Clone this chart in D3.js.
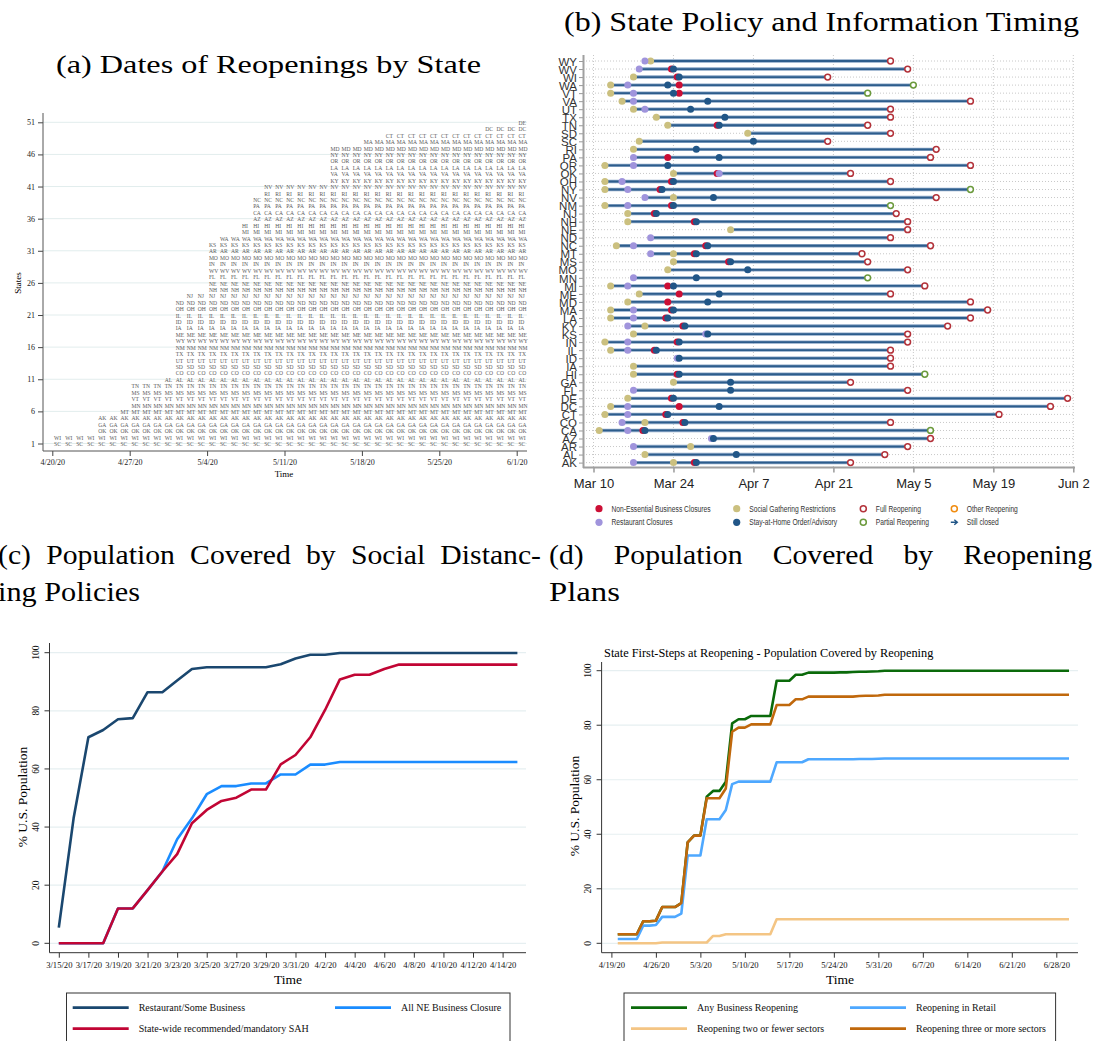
<!DOCTYPE html>
<html>
<head>
<meta charset="utf-8">
<script src="https://cdn.jsdelivr.net/npm/d3@7"></script>
<style>
  body { margin: 0; background: #fff; }
  svg { display: block; }
</style>
</head>
<body>
<svg id="fig" width="1094" height="1041"></svg>
<script>
// ---------- (a) reopening dates by state ----------
const reopenStates = ['SC','WI','OK','GA','AK','MT','MN','VT','MS','TN','AL','CO','SD','UT','TX','NM','WY','ME','IA','ID','IL','OH','ND','NJ','NH','NE','FL','WV','IN','MO','AR','KS','WA','MI','HI','AZ','CA','PA','NC','RI','NV','KY','VA','LA','OR','NY','MD','MA','CT','DC','DE'];
const reopenFirstDay = ['4/20','4/20','4/24','4/24','4/24','4/26','4/27','4/27','4/27','4/27','4/30',
  '5/1','5/1','5/1','5/1','5/1','5/1','5/1','5/1','5/1','5/1','5/1','5/1','5/2',
  '5/4','5/4','5/4','5/4','5/4','5/4','5/4','5/4','5/5','5/7','5/7','5/8','5/8','5/8','5/8','5/9','5/9',
  '5/15','5/15','5/15','5/15','5/15','5/15','5/18','5/20','5/29','6/1'];
const reopenLastDay = '6/1';
const ticksA = ['4/20','4/27','5/4','5/11','5/18','5/25','6/1'];
const stateTicksA = [1, 6, 11, 16, 21, 26, 31, 36, 41, 46, 51];

// ---------- (b) policy timing ----------
const policyStates = ['WY','WV','WI','WA','VT','VA','UT','TX','TN','SD','SC','RI','PA','OR','OK','OH','NY','NV','NM','NJ','NH','NE','ND','NC','MT','MS','MO','MN','MI','ME','MD','MA','LA','KY','KS','IN','IL','ID','IA','HI','GA','FL','DE','DC','CT','CO','CA','AZ','AR','AL','AK'];
const gatheringLimits = ['3/20',null,'3/17','3/13','3/13','3/15','3/17','3/21','3/23','4/6','3/18','3/17',null,'3/12','3/24','3/12','3/12','3/24','3/12','3/16','3/16','4/3',null,'3/14','3/24','3/24','3/23',null,'3/13','3/18','3/16','3/13','3/13','3/19','3/17','3/12','3/13',null,'3/17','3/17','3/24',null,'3/16','3/13','3/12','3/19','3/11',null,'3/27','3/19','3/24'];
const restaurantClose = ['3/19','3/18',null,'3/16','3/17','3/17','3/19',null,null,null,null,null,'3/17','3/17','4/1','3/15','3/16','3/19','3/16',null,null,null,'3/20','3/17','3/20',null,null,'3/17','3/16',null,null,'3/17','3/17','3/16','3/30','3/16','3/16','3/25',null,null,null,'3/17',null,'3/16','3/16','3/15','3/16','3/31','3/17',null,'3/17'];
const nonEssentialClose = [null,'3/24','3/25','3/25','3/25',null,null,null,'4/1',null,null,null,'3/23',null,'4/1','3/24','3/22',null,'3/24','3/21','3/28',null,null,'3/30','3/28','4/3',null,null,'3/23','3/25','3/23','3/24','3/23','3/26',null,'3/25','3/21',null,null,'3/25',null,null,'3/24','3/25','3/23','3/26','3/19',null,null,null,'3/28'];
const stayHome = [null,'3/24','3/25','3/23','3/24','3/30','3/27','4/2','4/1',null,'4/7','3/28','4/1','3/23',null,'3/24','3/22','3/31','3/24','3/21','3/28',null,null,'3/30','3/28','4/3','4/6','3/28','3/24','4/1','3/30','3/24','3/23','3/26','3/30','3/25','3/21','3/25',null,'3/25','4/3','4/3','3/24','4/1','3/23','3/26','3/19','3/31',null,'4/4','3/28'];
const reopenDay = ['5/1','5/4','4/20','5/5','4/27','5/15','5/1','5/1','4/27','5/1','4/20','5/9','5/8','5/15','4/24','5/1','5/15','5/9','5/1','5/2','5/4','5/4','5/1','5/8','4/26','4/27','5/4','4/27','5/7','5/1','5/15','5/18','5/15','5/11','5/4','5/4','5/1','5/1','5/1','5/7','4/24','5/4','6/1','5/29','5/20','5/1','5/8','5/8','5/4','4/30','4/24'];
const reopenKind = ['full','full','full','partial','partial','full','full','full','full','full','full','full','full','full','full','full','partial','full','partial','full','full','full','full','full','full','full','full','partial','full','full','full','full','full','full','full','full','full','full','full','partial','full','full','full','full','full','full','partial','full','full','full','full'];
const ticksB = ['3/10','3/24','4/7','4/21','5/5','5/19','6/2'];

// ---------- (c) social distancing coverage, daily 3/15 - 4/15 ----------
const ticksC = ['3/15','3/17','3/19','3/21','3/23','3/25','3/27','3/29','3/31','4/2','4/4','4/6','4/8','4/10','4/12','4/14'];
const restaurantSome = [5.4,43,70.9,73.4,77.1,77.5,86.4,86.4,90.4,94.4,95,95,95,95,95,96,98,99.3,99.3,99.9,99.9,99.9,99.9,99.9,99.9,99.9,99.9,99.9,99.9,99.9,99.9,99.9];
const allNEClosure = [0,0,0,0,12,12,18.3,24.7,35.8,43,51.3,54.1,54.1,55,55,58.1,58.1,61.5,61.5,62.4,62.4,62.4,62.4,62.4,62.4,62.4,62.4,62.4,62.4,62.4,62.4,62.4];
const stateSAH = [0,0,0,0,12,12,18.3,24.7,30.7,41.3,45.9,49,50.1,52.9,52.9,61.6,64.8,70.9,80.3,90.8,92.4,92.4,94.4,95.9,95.9,95.9,95.9,95.9,95.9,95.9,95.9,95.9];

// ---------- (d) reopening coverage, daily 4/20 - 6/30 ----------
const ticksD = ['4/19','4/26','5/3','5/10','5/17','5/24','5/31','6/7','6/14','6/21','6/28'];
const anyReopen = [3.3,3.3,3.3,3.3,8.1,8.1,8.3,13.3,13.3,13.3,14.7,
  37,39.5,39.5,53.8,55.9,55.9,59.3,80.7,82.2,82.2,83.4,83.4,83.4,83.4,96.3,96.3,96.3,98.5,98.5,99.3,99.3,99.3,99.3,99.3,99.4,99.4,99.5,99.6,99.6,99.7,99.8,
  100,100,100,100,100,100,100,100,100,100,100,100,100,100,100,100,100,100,100,100,100,100,100,100,100,100,100,100,100,100];
const retailReopen = [1.6,1.6,1.6,1.6,6.5,6.5,6.7,9.7,9.7,9.7,10.9,
  32.2,32.2,32.2,45.5,45.5,45.5,48.9,58.4,59.3,59.3,59.3,59.3,59.3,59.3,66.4,66.4,66.4,66.4,66.4,67.5,67.5,67.5,67.5,67.5,67.5,67.5,67.5,67.6,67.6,67.6,67.7,
  67.8,67.8,67.8,67.8,67.8,67.8,67.8,67.8,67.8,67.8,67.8,67.8,67.8,67.8,67.8,67.8,67.8,67.8,67.8,67.8,67.8,67.8,67.8,67.8,67.8,67.8,67.8,67.8,67.8,67.8];
const twoOrFewer = [0,0,0,0,0,0,0,0.3,0.3,0.3,0.3,
  0.3,0.3,0.3,0.3,2.7,2.7,3.3,3.3,3.3,3.3,3.3,3.3,3.3,3.3,8.8,8.8,8.8,8.8,8.8,8.8,8.8,8.8,8.8,8.8,8.8,8.8,8.8,8.8,8.8,8.8,8.8,
  8.8,8.8,8.8,8.8,8.8,8.8,8.8,8.8,8.8,8.8,8.8,8.8,8.8,8.8,8.8,8.8,8.8,8.8,8.8,8.8,8.8,8.8,8.8,8.8,8.8,8.8,8.8,8.8,8.8,8.8];
const threeOrMore = [3.3,3.3,3.3,3.3,8.1,8.1,8.3,13.3,13.3,13.3,14.7,
  37,39.5,39.5,53.2,53.2,53.2,56.8,77.6,79.1,79.1,80.3,80.3,80.3,80.3,87.4,87.4,87.4,89.5,89.5,90.5,90.5,90.5,90.5,90.5,90.5,90.5,90.5,90.7,90.8,90.8,90.9,
  91.2,91.2,91.2,91.2,91.2,91.2,91.2,91.2,91.2,91.2,91.2,91.2,91.2,91.2,91.2,91.2,91.2,91.2,91.2,91.2,91.2,91.2,91.2,91.2,91.2,91.2,91.2,91.2,91.2,91.2];

const SERIF = '"Liberation Serif", "Times New Roman", serif';
const SANS = '"Liberation Sans", Arial, sans-serif';
const parseDay = d3.timeParse('%m/%d/%Y');
const md = s => parseDay(s + '/2020');

const svg = d3.select('#fig');

// ---------- panel titles ----------
function stretchText(x, y, size, width, str) {
  return svg.append('text')
    .attr('x', x).attr('y', y)
    .style('font-family', SERIF).style('font-size', size + 'px')
    .attr('textLength', width).attr('lengthAdjust', 'spacingAndGlyphs')
    .text(str);
}
// justified caption line; words widened a little to mimic the wider TeX face
function justifyText(words, x0, x1, y, size, widen) {
  const nodes = words.map(w => svg.append('text')
    .attr('y', y).style('font-family', SERIF).style('font-size', size + 'px').text(w));
  const widths = nodes.map(n => n.node().getComputedTextLength() * widen);
  nodes.forEach((n, i) => n.attr('textLength', widths[i]).attr('lengthAdjust', 'spacingAndGlyphs'));
  const gap = (x1 - x0 - d3.sum(widths)) / (words.length - 1);
  let x = x0;
  nodes.forEach((n, i) => { n.attr('x', x); x += widths[i] + gap; });
}
stretchText(56, 73, 26, 425, '(a) Dates of Reopenings by State');
stretchText(564, 31, 27.5, 515, '(b) State Policy and Information Timing');
justifyText(['(c)', 'Population', 'Covered', 'by', 'Social', 'Distanc-'], -2, 541, 564, 27, 1.1);
stretchText(-2, 601, 27, 142, 'ing Policies');
justifyText(['(d)', 'Population', 'Covered', 'by', 'Reopening'], 549, 1092, 564, 27, 1.1);
stretchText(549, 601, 27, 71, 'Plans');

// ---------- panel (a) ----------
const xA = d3.scaleTime().domain([md('4/20'), md('6/1')]).range([52.3, 516.7]);
const yA = d3.scaleLinear().domain([1, 51]).range([443.5, 122.3]);
const gA = svg.append('g');

gA.selectAll('line.grid').data(stateTicksA).join('line')
  .attr('class', 'grid')
  .attr('x1', 43).attr('x2', 527)
  .attr('y1', d => yA(d)).attr('y2', d => yA(d))
  .attr('stroke', '#e2eded').attr('stroke-width', 1);

const cellsA = reopenStates.flatMap((s, i) =>
  d3.timeDay.range(md(reopenFirstDay[i]), d3.timeDay.offset(md(reopenLastDay), 1))
    .map(d => ({ s, d, row: i + 1 })));

gA.selectAll('text.cell').data(cellsA).join('text')
  .attr('class', 'cell')
  .attr('x', d => xA(d.d) + 1.8)
  .attr('y', d => yA(d.row) + 2.6)
  .style('font-family', SERIF).style('font-size', '5.6px')
  .attr('fill', '#5a5a5a')
  .text(d => d.s);

const axA = gA.append('g').attr('transform', 'translate(0,451)')
  .call(d3.axisBottom(xA).tickValues(ticksA.map(md)).tickFormat(d3.timeFormat('%-m/%-d/%y')).tickSize(5).tickPadding(3));
axA.select('.domain').remove();
axA.selectAll('line').attr('stroke', '#444');
axA.selectAll('text').style('font-family', SERIF).style('font-size', '8px').attr('fill', '#222');

const ayA = gA.append('g').attr('transform', 'translate(43,0)')
  .call(d3.axisLeft(yA).tickValues(stateTicksA).tickSize(5).tickPadding(3));
ayA.select('.domain').remove();
ayA.selectAll('line').attr('stroke', '#444');
ayA.selectAll('text').style('font-family', SERIF).style('font-size', '8px').attr('fill', '#222');

gA.append('line').attr('x1', 43).attr('x2', 527).attr('y1', 451).attr('y2', 451).attr('stroke', '#555');
gA.append('line').attr('x1', 43).attr('x2', 43).attr('y1', 113).attr('y2', 451).attr('stroke', '#555');
gA.append('text').attr('x', 284).attr('y', 477).attr('text-anchor', 'middle')
  .style('font-family', SERIF).style('font-size', '9px').text('Time');
gA.append('text').attr('transform', 'translate(21,283) rotate(-90)').attr('text-anchor', 'middle')
  .style('font-family', SERIF).style('font-size', '9px').text('States');

// ---------- panel (b) ----------
const xB = d3.scaleTime().domain([md('3/10'), md('6/2')]).range([593.5, 1073.3]);
const yB = d3.scalePoint().domain(policyStates).range([61, 462.6]);
const gB = svg.append('g');
const dotColor = { gather: '#cbc07f', rest: '#a094dc', neb: '#cc0f35', sah: '#215687' };
const reopenColor = { full: '#b3323a', partial: '#6b9a3c', other: '#f08c10' };

gB.selectAll('line.vgrid').data(ticksB).join('line')
  .attr('x1', d => xB(md(d))).attr('x2', d => xB(md(d)))
  .attr('y1', 55).attr('y2', 467)
  .attr('stroke', '#c8c8c8').attr('stroke-dasharray', '1,2');
gB.selectAll('line.hgrid').data(policyStates).join('line')
  .attr('x1', 586).attr('x2', 1075)
  .attr('y1', d => yB(d)).attr('y2', d => yB(d))
  .attr('stroke', '#c8c8c8').attr('stroke-dasharray', '1,2');

const rowsB = policyStates.map((s, i) => {
  const marks = [
    { k: 'gather', d: gatheringLimits[i] },
    { k: 'neb', d: nonEssentialClose[i] },
    { k: 'rest', d: restaurantClose[i] },
    { k: 'sah', d: stayHome[i] }
  ].filter(m => m.d);
  // a marker hidden by a later one on the same day is nudged left so it peeks out
  marks.forEach((m, j) => { m.nudge = marks.slice(j + 1).some(n => n.d === m.d) ? -2 : 0; });
  const start = d3.min(marks, m => md(m.d));
  return { s, marks, start, end: md(reopenDay[i]), kind: reopenKind[i] };
});

const rowG = gB.selectAll('g.row').data(rowsB).join('g')
  .attr('transform', d => `translate(0,${yB(d.s)})`);
rowG.append('line')
  .attr('x1', d => xB(d.start)).attr('x2', d => xB(d.end))
  .attr('stroke', '#8aa6c6').attr('stroke-width', 3.4);
rowG.append('line')
  .attr('x1', d => xB(d.start)).attr('x2', d => xB(d.end))
  .attr('stroke', '#2d5d8c').attr('stroke-width', 1.8);
rowG.selectAll('circle.mk').data(d => d.marks).join('circle')
  .attr('cx', m => xB(md(m.d)) + m.nudge).attr('cy', 0).attr('r', 3.5)
  .attr('fill', m => dotColor[m.k]);
rowG.append('circle')
  .attr('cx', d => xB(d.end)).attr('cy', 0).attr('r', 2.9)
  .attr('fill', '#fff').attr('stroke', d => reopenColor[d.kind]).attr('stroke-width', 1.5);

const axB = gB.append('g').attr('transform', 'translate(0,467.5)')
  .call(d3.axisBottom(xB).tickValues(ticksB.map(md)).tickFormat(d3.timeFormat('%b %-d')).tickSize(5).tickPadding(6));
axB.select('.domain').remove();
axB.selectAll('line').attr('stroke', '#999').attr('stroke-width', 1.5);
axB.selectAll('text').style('font-family', SANS).style('font-size', '13px').attr('fill', '#222');
gB.append('line').attr('x1', 583).attr('x2', 1075).attr('y1', 467.5).attr('y2', 467.5)
  .attr('stroke', '#a0a0a0').attr('stroke-width', 2);

const ayB = gB.append('g').attr('transform', 'translate(583,0)')
  .call(d3.axisLeft(yB).tickSize(4).tickPadding(2));
ayB.select('.domain').remove();
ayB.selectAll('line').attr('stroke', '#999');
ayB.selectAll('text').style('font-family', SANS).style('font-size', '11.5px').attr('fill', '#333')
  .attr('dy', '0.36em');
gB.append('line').attr('x1', 583.5).attr('x2', 583.5).attr('y1', 55).attr('y2', 468)
  .attr('stroke', '#a0a0a0').attr('stroke-width', 2);

// legend (b)
const legB = [
  { label: 'Non-Essential Business Closures', kind: 'dot', color: dotColor.neb, col: 0, row: 0 },
  { label: 'Restaurant Closures', kind: 'dot', color: dotColor.rest, col: 0, row: 1 },
  { label: 'Social Gathering Restrictions', kind: 'dot', color: dotColor.gather, col: 1, row: 0 },
  { label: 'Stay-at-Home Order/Advisory', kind: 'dot', color: dotColor.sah, col: 1, row: 1 },
  { label: 'Full Reopening', kind: 'ring', color: reopenColor.full, col: 2, row: 0 },
  { label: 'Partial Reopening', kind: 'ring', color: reopenColor.partial, col: 2, row: 1 },
  { label: 'Other Reopening', kind: 'ring', color: reopenColor.other, col: 3, row: 0 },
  { label: 'Still closed', kind: 'arrow', color: dotColor.sah, col: 3, row: 1 }
];
const legColX = [599, 736.7, 863.3, 954.3];
const legRowY = [508.7, 522.3];
const legItem = gB.selectAll('g.leg').data(legB).join('g')
  .attr('transform', d => `translate(${legColX[d.col]},${legRowY[d.row]})`);
legItem.filter(d => d.kind === 'dot').append('circle').attr('r', 3.6).attr('fill', d => d.color);
legItem.filter(d => d.kind === 'ring').append('circle').attr('r', 3).attr('fill', '#fff')
  .attr('stroke', d => d.color).attr('stroke-width', 1.5);
legItem.filter(d => d.kind === 'arrow').append('path')
  .attr('d', 'M-3.5,0H2.5M0,-2.5L3,0L0,2.5').attr('fill', 'none')
  .attr('stroke', d => d.color).attr('stroke-width', 1.4);
legItem.append('text').attr('x', 12.5).attr('y', 3)
  .style('font-family', SANS).style('font-size', '8.4px').attr('fill', '#333')
  .text(d => d.label)
  .each(function () {
    // the original legend uses a narrow face: squeeze horizontally
    const w = this.getComputedTextLength();
    d3.select(this).attr('textLength', w * 0.8).attr('lengthAdjust', 'spacingAndGlyphs');
  });

// ---------- shared line-panel helper for (c) and (d) ----------
function linePanel(o) {
  const g = svg.append('g');
  const x = d3.scaleTime().domain(o.xDomain).range(o.xRange);
  const y = d3.scaleLinear().domain([0, 100]).range(o.yRange);
  const yTicks = [0, 20, 40, 60, 80, 100];

  g.selectAll('line.grid').data(yTicks).join('line')
    .attr('x1', o.left).attr('x2', o.right)
    .attr('y1', d => y(d)).attr('y2', d => y(d))
    .attr('stroke', '#e6eff1').attr('stroke-width', 1.2);

  const line = d3.line().x(d => x(d.date)).y(d => y(d.v));
  o.series.forEach(s => {
    const pts = s.values.map((v, i) => ({ date: d3.timeDay.offset(o.firstDay, i), v }));
    g.append('path').datum(pts).attr('d', line)
      .attr('fill', 'none').attr('stroke', s.color).attr('stroke-width', 2.6)
      .attr('stroke-linejoin', 'round');
  });

  const ax = g.append('g').attr('transform', `translate(0,${o.bottom})`)
    .call(d3.axisBottom(x).tickValues(o.xTicks.map(md)).tickFormat(d3.timeFormat('%-m/%-d/%y')).tickSize(5).tickPadding(4));
  ax.select('.domain').remove();
  ax.selectAll('line').attr('stroke', '#333');
  ax.selectAll('text').style('font-family', SERIF).style('font-size', '8.6px').attr('fill', '#111');

  g.selectAll('line.yt').data(yTicks).join('line')
    .attr('x1', o.left - 5).attr('x2', o.left)
    .attr('y1', d => y(d)).attr('y2', d => y(d)).attr('stroke', '#333');
  g.selectAll('text.yl').data(yTicks).join('text')
    .attr('transform', d => `translate(${o.left - 11},${y(d)}) rotate(-90)`)
    .attr('text-anchor', 'middle')
    .style('font-family', SERIF).style('font-size', '9.5px').attr('fill', '#111')
    .text(d => d);

  g.append('line').attr('x1', o.left).attr('x2', o.right).attr('y1', o.bottom).attr('y2', o.bottom).attr('stroke', '#333');
  g.append('line').attr('x1', o.left).attr('x2', o.left).attr('y1', o.top).attr('y2', o.bottom).attr('stroke', '#333');

  g.append('text').attr('x', o.timeX).attr('y', o.bottom + 31).attr('text-anchor', 'middle')
    .style('font-family', SERIF).style('font-size', '13.5px').text('Time');
  g.append('text').attr('transform', `translate(${o.left - 23},${o.yLabelY}) rotate(-90)`)
    .attr('text-anchor', 'middle')
    .style('font-family', SERIF).style('font-size', '13.5px').text('% U.S. Population');

  if (o.title) {
    g.append('text').attr('x', o.left + 2.5).attr('y', o.top - 5)
      .style('font-family', SERIF).style('font-size', '12.3px').text(o.title);
  }

  // legend box
  g.append('rect').attr('x', o.legX).attr('y', 993).attr('width', o.legW).attr('height', 70)
    .attr('fill', '#fff').attr('stroke', '#333');
  const li = g.selectAll('g.li').data(o.legend).join('g')
    .attr('transform', d => `translate(${o.legCols[d.col]},${[1007.7, 1028.7][d.row]})`);
  li.append('line').attr('x1', 0).attr('x2', 56).attr('stroke', d => d.color).attr('stroke-width', 2.8);
  li.append('text').attr('x', 66).attr('y', 3.5)
    .style('font-family', SERIF).style('font-size', '10px').attr('fill', '#111')
    .text(d => d.label);
}

linePanel({
  firstDay: md('3/15'),
  xDomain: [md('3/15'), md('4/14')], xRange: [58.8, 502.6],
  yRange: [943.3, 652.7],
  left: 49.5, right: 526, top: 643, bottom: 952.7,
  xTicks: ticksC, timeX: 288, yLabelY: 797,
  series: [
    { values: restaurantSome, color: '#1a476f' },
    { values: allNEClosure, color: '#1a8cff' },
    { values: stateSAH, color: '#c10534' }
  ],
  legX: 66.5, legW: 443.5, legCols: [72.7, 335],
  legend: [
    { label: 'Restaurant/Some Business', color: '#1a476f', col: 0, row: 0 },
    { label: 'All NE Business Closure', color: '#1a8cff', col: 1, row: 0 },
    { label: 'State-wide recommended/mandatory SAH', color: '#c10534', col: 0, row: 1 }
  ]
});

linePanel({
  firstDay: md('4/20'),
  xDomain: [md('4/19'), md('6/28')], xRange: [611.4, 1056.3],
  yRange: [943.3, 670.7],
  left: 601.6, right: 1078, top: 662, bottom: 952.7,
  xTicks: ticksD, timeX: 840, yLabelY: 806,
  title: 'State First-Steps at Reopening - Population Covered by Reopening',
  series: [
    { values: anyReopen, color: '#0a6a0a' },
    { values: retailReopen, color: '#4ea8ff' },
    { values: twoOrFewer, color: '#f4c584' },
    { values: threeOrMore, color: '#c0680c' }
  ],
  legX: 624, legW: 431.6, legCols: [631, 850],
  legend: [
    { label: 'Any Business Reopening', color: '#0a6a0a', col: 0, row: 0 },
    { label: 'Reopening in Retail', color: '#4ea8ff', col: 1, row: 0 },
    { label: 'Reopening two or fewer sectors', color: '#f4c584', col: 0, row: 1 },
    { label: 'Reopening three or more sectors', color: '#c0680c', col: 1, row: 1 }
  ]
});
</script>
</body>
</html>
